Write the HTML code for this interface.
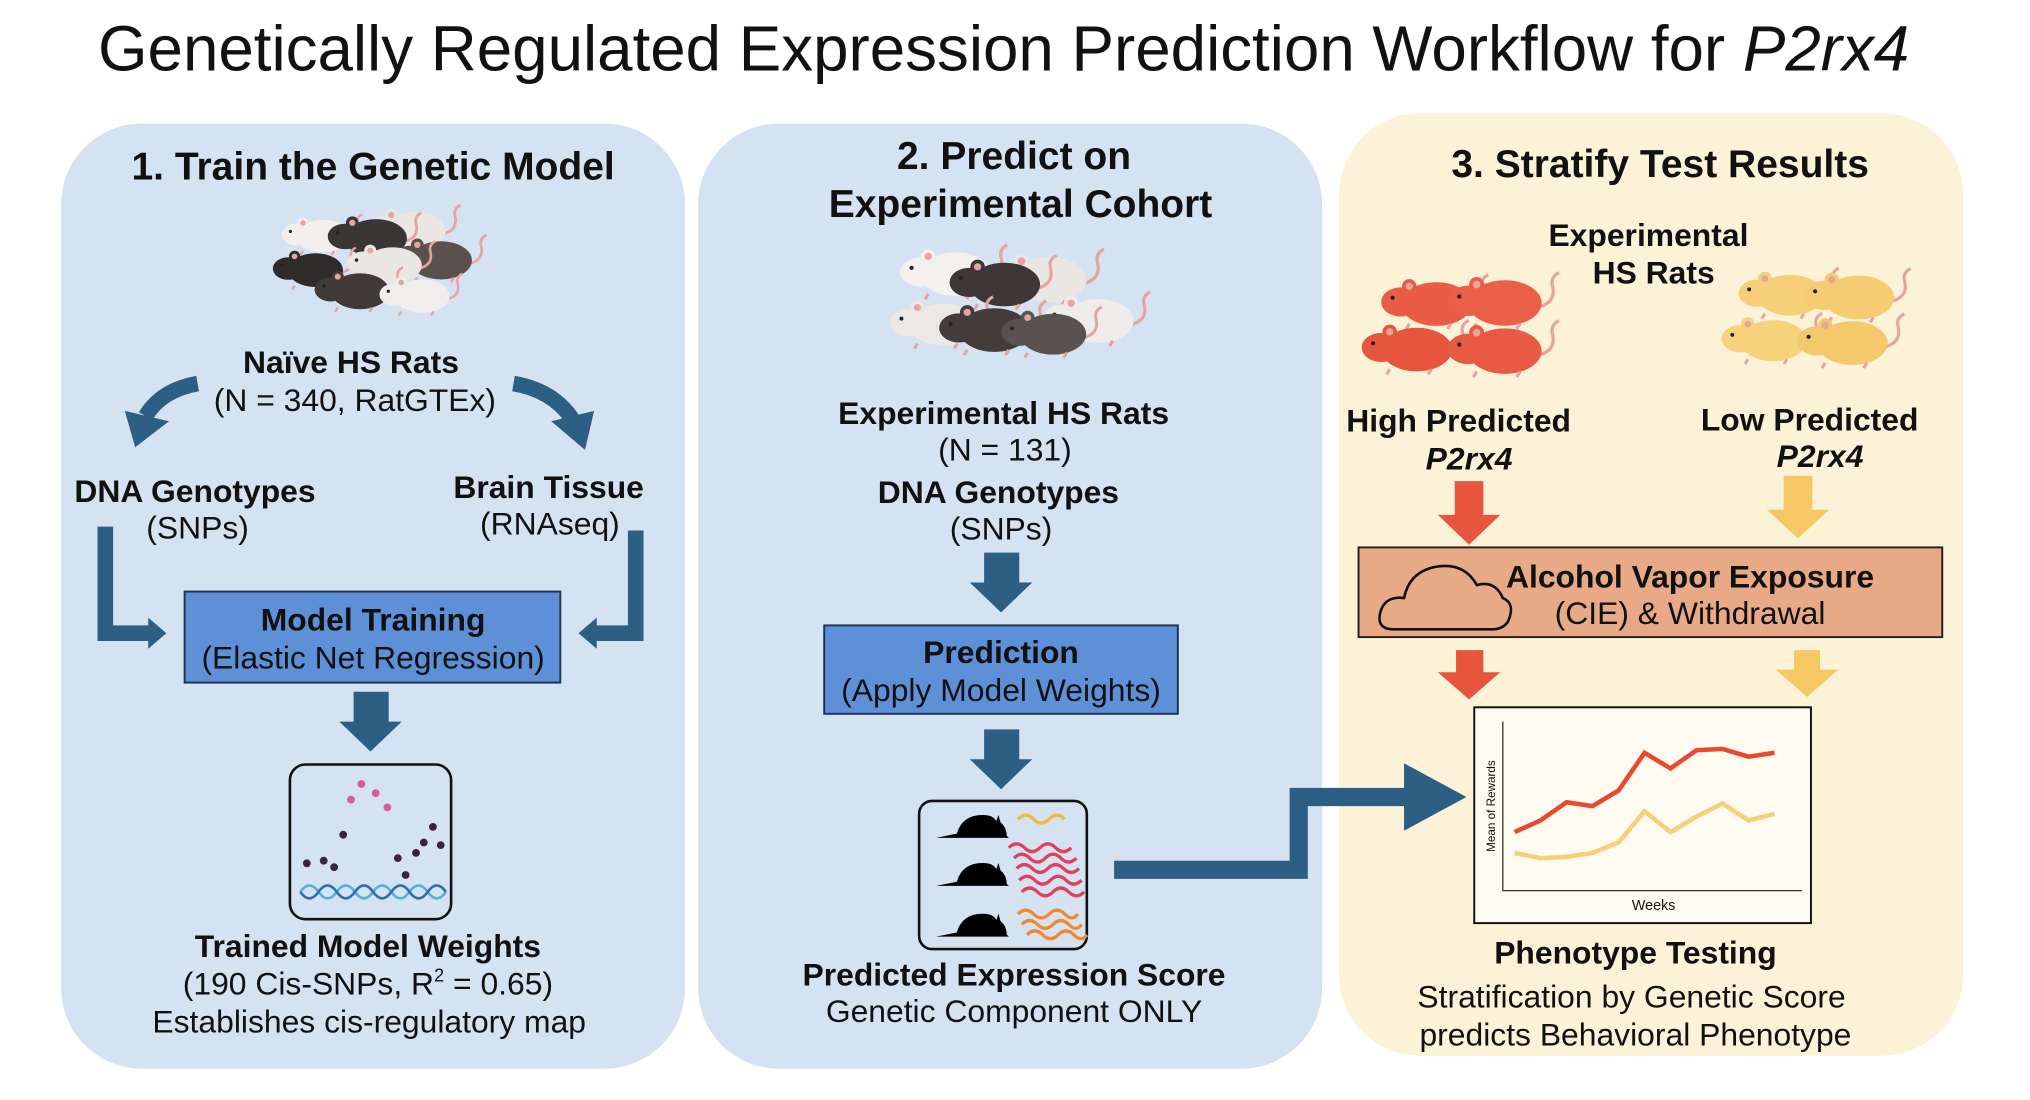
<!DOCTYPE html>
<html><head><meta charset="utf-8"><style>
html,body{margin:0;padding:0;background:#fff;}
svg{display:block;}
text{font-family:"Liberation Sans",Arial,sans-serif;fill:#111;}
.b{font-weight:bold;}
</style></head><body>
<svg width="2030" height="1100" viewBox="0 0 1561.5 846" xmlns="http://www.w3.org/2000/svg">
<defs>
<symbol id="rat" viewBox="0 0 100 60" overflow="visible">
<path d="M86 40 Q104 36 100 20 Q98 12 106 8" fill="none" stroke="#e7a3a0" stroke-width="3"/>
<ellipse cx="56" cy="36" rx="34" ry="21"/>
<ellipse cx="22" cy="34" rx="19" ry="14"/>
<circle cx="30" cy="19" r="7"/>
<circle cx="30" cy="19" r="3.5" fill="#e7a3a0"/>
<circle cx="14" cy="30" r="2" fill="#222"/>
<path d="M30 55 l-3 5 M70 55 l-3 5" stroke="#e7a3a0" stroke-width="3"/>
</symbol>
<symbol id="mouse" viewBox="0 0 70 30" overflow="visible">
<path d="M0 28 L20 24 Q25 6 45 6 Q55 6 58 12 L60 6 L62 13 Q68 18 68 26 L70 28 Z" fill="#000"/>
</symbol>
</defs>

<text x="772" y="54" font-size="49" text-anchor="middle">Genetically Regulated Expression Prediction Workflow for <tspan font-style="italic">P2rx4</tspan></text>

<!-- Panels -->
<rect x="47" y="95" width="480" height="727" rx="62" fill="#d5e2f2"/>
<rect x="537" y="95" width="480" height="727" rx="62" fill="#d5e2f2"/>
<rect x="1030" y="87" width="480" height="725" rx="62" fill="#fcf2d8"/>

<!-- Panel 1 -->
<text x="287" y="138" font-size="30" class="b" text-anchor="middle">1. Train the Genetic Model</text>
<g>
<use href="#rat" x="215" y="160" width="60" height="36" fill="#f2efee"/>
<use href="#rat" x="280" y="152" width="70" height="42" fill="#e9e6e4"/>
<use href="#rat" x="250" y="158" width="70" height="42" fill="#3b3636"/>
<use href="#rat" x="300" y="175" width="70" height="42" fill="#5a514d"/>
<use href="#rat" x="208" y="185" width="62" height="38" fill="#2f2b2b"/>
<use href="#rat" x="265" y="180" width="66" height="40" fill="#e9e6e4"/>
<use href="#rat" x="240" y="200" width="66" height="40" fill="#403a39"/>
<use href="#rat" x="290" y="205" width="62" height="38" fill="#f0eded"/>
</g>
<text x="270" y="287" font-size="24.5" class="b" text-anchor="middle">Naïve HS Rats</text>
<text x="273" y="316" font-size="24.5" text-anchor="middle">(N = 340, RatGTEx)</text>
<path d="M152 295 Q124 300 112 320" fill="none" stroke="#2d5e84" stroke-width="12"/>
<polygon points="96,316 130,324 104,344" fill="#2d5e84"/>
<path d="M395 295 Q425 300 440 322" fill="none" stroke="#2d5e84" stroke-width="12"/>
<polygon points="424,324 457,316 450,346" fill="#2d5e84"/>
<text x="150" y="386" font-size="24.5" class="b" text-anchor="middle">DNA Genotypes</text>
<text x="152" y="414" font-size="24.5" text-anchor="middle">(SNPs)</text>
<text x="422" y="383" font-size="24.5" class="b" text-anchor="middle">Brain Tissue</text>
<text x="423" y="411" font-size="24.5" text-anchor="middle">(RNAseq)</text>
<path d="M81 405 V487 H115" fill="none" stroke="#2d5e84" stroke-width="12"/>
<polygon points="114,475 128,487 114,499" fill="#2d5e84"/>
<path d="M489 408 V487 H458" fill="none" stroke="#2d5e84" stroke-width="12"/>
<polygon points="459,475 445,487 459,499" fill="#2d5e84"/>
<rect x="142" y="455" width="289" height="70" fill="#5e90d8" stroke="#1f3350" stroke-width="1.5"/>
<text x="287" y="485" font-size="24.5" class="b" text-anchor="middle">Model Training</text>
<text x="287" y="514" font-size="24.5" text-anchor="middle">(Elastic Net Regression)</text>
<polygon points="272,532 299,532 299,555 309,555 285,578 261,555 272,555" fill="#2d5e84"/>
<rect x="223" y="588" width="124" height="119" rx="12" fill="none" stroke="#111" stroke-width="2"/>
<g fill="#d85a9a"><circle cx="278" cy="603" r="3"/><circle cx="270" cy="615" r="3"/><circle cx="289" cy="610" r="3"/><circle cx="298" cy="621" r="3"/></g>
<g fill="#3a2340"><circle cx="264" cy="642" r="3"/><circle cx="236" cy="664" r="3"/><circle cx="249" cy="662" r="3"/><circle cx="257" cy="667" r="3"/><circle cx="306" cy="660" r="3"/><circle cx="320" cy="656" r="3"/><circle cx="326" cy="648" r="3"/><circle cx="333" cy="636" r="3"/><circle cx="339" cy="650" r="3"/><circle cx="312" cy="673" r="3"/></g>
<path d="M231 686 q7 -10 14 0 t14 0 t14 0 t14 0 t14 0 t14 0 t14 0 t14 0" fill="none" stroke="#4fb3d9" stroke-width="2"/>
<path d="M231 686 q7 10 14 0 t14 0 t14 0 t14 0 t14 0 t14 0 t14 0 t14 0" fill="none" stroke="#2f6fa8" stroke-width="2"/>
<text x="283" y="736" font-size="24.5" class="b" text-anchor="middle">Trained Model Weights</text>
<text x="283" y="765" font-size="24.5" text-anchor="middle">(190 Cis-SNPs, R<tspan font-size="14" dy="-10">2</tspan><tspan dy="10"> = 0.65)</tspan></text>
<text x="284" y="794" font-size="24.5" text-anchor="middle">Establishes cis-regulatory map</text>

<!-- Panel 2 -->
<text x="780" y="130" font-size="30" class="b" text-anchor="middle">2. Predict on</text>
<text x="785" y="167" font-size="30" class="b" text-anchor="middle">Experimental Cohort</text>
<g>
<use href="#rat" x="690" y="182" width="80" height="48" fill="#f3f0ee"/>
<use href="#rat" x="760" y="185" width="85" height="50" fill="#e9e6e4"/>
<use href="#rat" x="728" y="190" width="80" height="48" fill="#3d3837"/>
<use href="#rat" x="682" y="222" width="78" height="46" fill="#ebe8e6"/>
<use href="#rat" x="800" y="218" width="80" height="48" fill="#efecea"/>
<use href="#rat" x="720" y="225" width="80" height="48" fill="#423c3b"/>
<use href="#rat" x="768" y="230" width="75" height="45" fill="#585250"/>
</g>
<text x="772" y="326" font-size="24.5" class="b" text-anchor="middle">Experimental HS Rats</text>
<text x="773" y="354" font-size="24.5" text-anchor="middle">(N = 131)</text>
<text x="768" y="387" font-size="24.5" class="b" text-anchor="middle">DNA Genotypes</text>
<text x="770" y="415" font-size="24.5" text-anchor="middle">(SNPs)</text>
<polygon points="757,425 784,425 784,448 794,448 770,471 746,448 757,448" fill="#2d5e84"/>
<rect x="634" y="481" width="272" height="68" fill="#5e90d8" stroke="#1f3350" stroke-width="1.5"/>
<text x="770" y="510" font-size="24.5" class="b" text-anchor="middle">Prediction</text>
<text x="770" y="539" font-size="24.5" text-anchor="middle">(Apply Model Weights)</text>
<polygon points="757,561 784,561 784,584 794,584 770,607 746,584 757,584" fill="#2d5e84"/>
<rect x="707" y="616" width="129" height="114" rx="10" fill="none" stroke="#111" stroke-width="2"/>
<use href="#mouse" x="720" y="622" width="56" height="24"/>
<use href="#mouse" x="720" y="659" width="56" height="24"/>
<use href="#mouse" x="720" y="698" width="56" height="24"/>
<path d="M783 630 q6 -6 12 0 t12 0 t12 0" fill="none" stroke="#f0b93c" stroke-width="2.5"/>
<g fill="none" stroke="#e0405a" stroke-width="2.5">
<path d="M776 652 q6 -6 12 0 t12 0 t12 0 t12 0"/><path d="M780 660 q6 -6 12 0 t12 0 t12 0 t12 0"/><path d="M782 668 q6 -6 12 0 t12 0 t12 0 t12 0"/><path d="M784 677 q6 -6 12 0 t12 0 t12 0 t12 0"/><path d="M786 686 q6 -6 12 0 t12 0 t12 0 t12 0"/></g>
<g fill="none" stroke="#f08a30" stroke-width="2.5">
<path d="M783 703 q6 -6 12 0 t12 0 t12 0 t10 0"/><path d="M786 711 q6 -6 12 0 t12 0 t12 0 t10 0"/><path d="M790 719 q6 -6 12 0 t12 0 t12 0 t10 0"/></g>
<text x="780" y="758" font-size="24.5" class="b" text-anchor="middle">Predicted Expression Score</text>
<text x="780" y="786" font-size="24.5" text-anchor="middle">Genetic Component ONLY</text>
<path d="M857 669 H999 V613 H1082" fill="none" stroke="#2d5e84" stroke-width="14"/>
<polygon points="1080,587 1128,613 1080,639" fill="#2d5e84"/>

<!-- Panel 3 -->
<text x="1277" y="136" font-size="30" class="b" text-anchor="middle">3. Stratify Test Results</text>
<text x="1268" y="189" font-size="24.5" class="b" text-anchor="middle">Experimental</text>
<text x="1272" y="218" font-size="24.5" class="b" text-anchor="middle">HS Rats</text>
<g>
<use href="#rat" x="1060" y="205" width="80" height="48" fill="#e95c46"/>
<use href="#rat" x="1110" y="203" width="85" height="50" fill="#ea5f48"/>
<use href="#rat" x="1045" y="240" width="80" height="48" fill="#e6563f"/>
<use href="#rat" x="1110" y="240" width="85" height="50" fill="#e85a43"/>
<use href="#rat" x="1335" y="200" width="75" height="45" fill="#f6cf78"/>
<use href="#rat" x="1385" y="200" width="80" height="48" fill="#f5cc72"/>
<use href="#rat" x="1322" y="235" width="75" height="45" fill="#f7d27c"/>
<use href="#rat" x="1380" y="235" width="80" height="48" fill="#f4c96c"/>
</g>
<text x="1122" y="332" font-size="24.5" class="b" text-anchor="middle">High Predicted</text>
<text x="1130" y="361" font-size="24.5" class="b" font-style="italic" text-anchor="middle">P2rx4</text>
<text x="1392" y="331" font-size="24.5" class="b" text-anchor="middle">Low Predicted</text>
<text x="1400" y="359" font-size="24.5" class="b" font-style="italic" text-anchor="middle">P2rx4</text>
<polygon points="1119,370 1141,370 1141,396 1154,396 1130,419 1106,396 1119,396" fill="#e8553f"/>
<polygon points="1372,366 1394,366 1394,392 1407,392 1383,414 1359,392 1372,392" fill="#f6c863"/>
<rect x="1045" y="421" width="449" height="69" fill="#e8aa86" stroke="#222" stroke-width="1.5"/>
<path d="M1072 484 Q1058 484 1062 470 Q1066 458 1080 460 Q1084 440 1104 436 Q1126 432 1136 450 Q1150 446 1156 460 Q1166 464 1160 478 Q1156 484 1148 484 Z" fill="none" stroke="#111" stroke-width="2"/>
<text x="1300" y="452" font-size="24.5" class="b" text-anchor="middle">Alcohol Vapor Exposure</text>
<text x="1300" y="480" font-size="24.5" text-anchor="middle">(CIE) &amp; Withdrawal</text>
<polygon points="1120,500 1141,500 1141,517 1154,517 1130,538 1106,517 1120,517" fill="#e8553f"/>
<polygon points="1380,500 1400,500 1400,515 1414,515 1390,536 1366,515 1380,515" fill="#f6c863"/>
<rect x="1134" y="544" width="259" height="166" fill="#fffbf0" stroke="#111" stroke-width="1.5"/>
<path d="M1156 555 V685 H1386" fill="none" stroke="#333" stroke-width="1"/>
<text x="1272" y="700" font-size="11" text-anchor="middle">Weeks</text>
<text transform="translate(1150 620) rotate(-90)" font-size="9" text-anchor="middle">Mean of Rewards</text>
<polyline points="1165,640 1185,631 1205,617 1225,620 1245,608 1265,579 1285,591 1305,577 1325,576 1345,582 1365,579" fill="none" stroke="#e8492f" stroke-width="3.5"/>
<polyline points="1165,656 1185,660 1205,659 1225,656 1245,648 1265,624 1285,640 1305,628 1325,618 1345,631 1365,626" fill="none" stroke="#f6d07a" stroke-width="3.5"/>
<text x="1258" y="741" font-size="24.5" class="b" text-anchor="middle">Phenotype Testing</text>
<text x="1255" y="775" font-size="24.5" text-anchor="middle">Stratification by Genetic Score</text>
<text x="1258" y="804" font-size="24.5" text-anchor="middle">predicts Behavioral Phenotype</text>
</svg>
</body></html>
